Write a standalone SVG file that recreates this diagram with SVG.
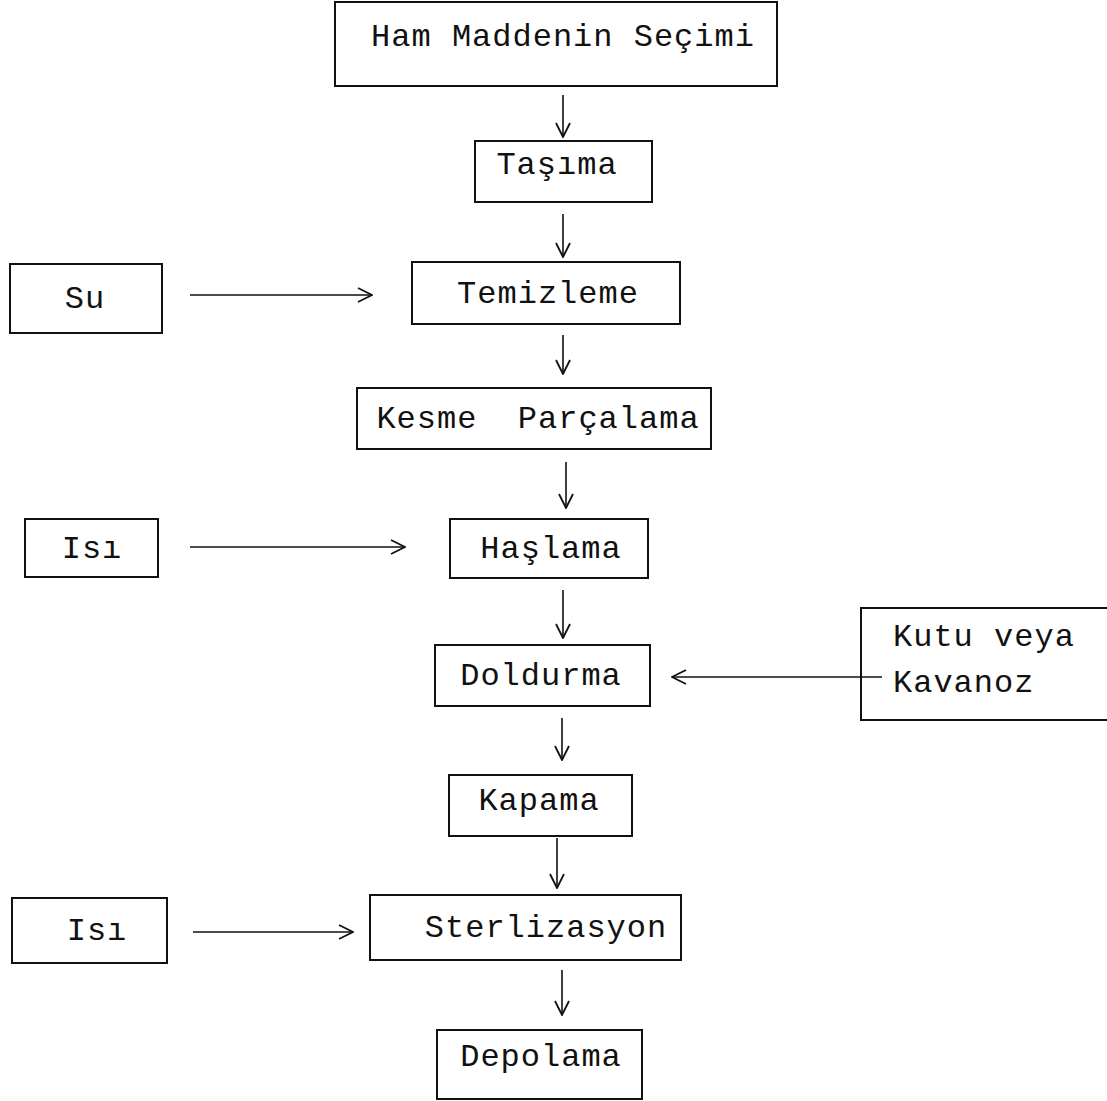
<svg xmlns="http://www.w3.org/2000/svg" width="1107" height="1101" viewBox="0 0 1107 1101">
<style>
.box{fill:none;stroke:#111;stroke-width:2}
.t{font-family:"Liberation Mono","Courier New",monospace;font-size:32px;letter-spacing:1px;fill:#111;text-anchor:middle}
.tl{font-family:"Liberation Mono","Courier New",monospace;font-size:32px;letter-spacing:1px;fill:#111}
.c{fill:none;stroke:#111;stroke-width:1.6}
</style>
<defs>
<marker id="ah" viewBox="0 0 16 16" refX="15" refY="8" markerWidth="16" markerHeight="16" markerUnits="userSpaceOnUse" orient="auto">
<path d="M1,1 L15,8 L1,15" fill="none" stroke="#111" stroke-width="1.8"/>
</marker>
</defs>
<rect width="1107" height="1101" fill="#fff"/>
<g id="n1"><rect class="box" x="335" y="2" width="442" height="84"/><text class="t" x="563" y="46">Ham Maddenin Seçimi</text></g>
<g id="n2"><rect class="box" x="475" y="141" width="177" height="61"/><text class="t" x="557" y="174">Taşıma</text></g>
<g id="su"><rect class="box" x="10" y="264" width="152" height="69"/><text class="t" x="85" y="308">Su</text></g>
<g id="n3"><rect class="box" x="412" y="262" width="268" height="62"/><text class="t" x="548" y="303">Temizleme</text></g>
<g id="n4"><rect class="box" x="357" y="388" width="354" height="61"/><text class="t" x="538" y="428" xml:space="preserve">Kesme  Parçalama</text></g>
<g id="isi1"><rect class="box" x="25" y="519" width="133" height="58"/><text class="t" x="92" y="558">Isı</text></g>
<g id="n5"><rect class="box" x="450" y="519" width="198" height="59"/><text class="t" x="551" y="558">Haşlama</text></g>
<g id="n6"><rect class="box" x="435" y="645" width="215" height="61"/><text class="t" x="541" y="685">Doldurma</text></g>
<g id="kutu"><rect class="box" x="861" y="608" width="247" height="112"/><text class="tl" x="893" y="646">Kutu veya</text><text class="tl" x="893" y="692">Kavanoz</text></g>
<g id="n7"><rect class="box" x="449" y="775" width="183" height="61"/><text class="t" x="539" y="810">Kapama</text></g>
<g id="isi2"><rect class="box" x="12" y="898" width="155" height="65"/><text class="t" x="97" y="940">Isı</text></g>
<g id="n8"><rect class="box" x="370" y="895" width="311" height="65"/><text class="t" x="546" y="937">Sterlizasyon</text></g>
<g id="n9"><rect class="box" x="437" y="1030" width="205" height="69"/><text class="t" x="541" y="1066">Depolama</text></g>
<g id="connectors">
<line class="c" x1="563" y1="95" x2="563" y2="137" marker-end="url(#ah)"/>
<line class="c" x1="563" y1="214" x2="563" y2="257" marker-end="url(#ah)"/>
<line class="c" x1="190" y1="295" x2="372" y2="295" marker-end="url(#ah)"/>
<line class="c" x1="563" y1="335" x2="563" y2="374" marker-end="url(#ah)"/>
<line class="c" x1="566" y1="462" x2="566" y2="508" marker-end="url(#ah)"/>
<line class="c" x1="190" y1="547" x2="405" y2="547" marker-end="url(#ah)"/>
<line class="c" x1="563" y1="590" x2="563" y2="638" marker-end="url(#ah)"/>
<line class="c" x1="882" y1="677" x2="672" y2="677" marker-end="url(#ah)"/>
<line class="c" x1="562" y1="718" x2="562" y2="760" marker-end="url(#ah)"/>
<line class="c" x1="557" y1="838" x2="557" y2="888" marker-end="url(#ah)"/>
<line class="c" x1="193" y1="932" x2="353" y2="932" marker-end="url(#ah)"/>
<line class="c" x1="562" y1="970" x2="562" y2="1015" marker-end="url(#ah)"/>
</g>
</svg>
